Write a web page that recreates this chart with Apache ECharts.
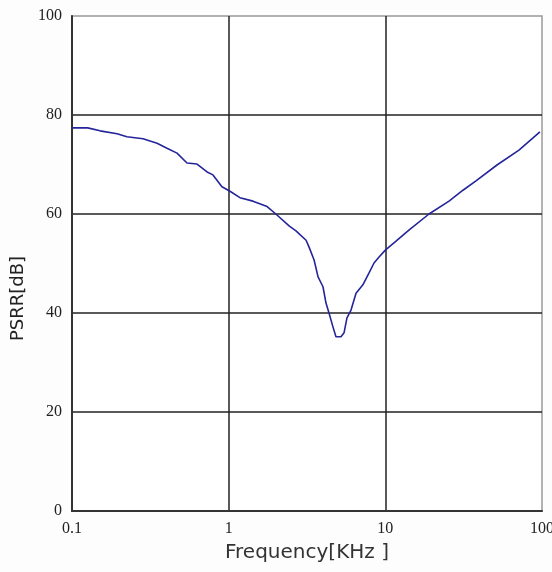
<!DOCTYPE html>
<html>
<head>
<meta charset="utf-8">
<script src="https://cdn.jsdelivr.net/npm/echarts@6/dist/echarts.min.js"></script>
<style>
  html, body { margin: 0; padding: 0; background: #fdfdfd; }
  #chart { width: 552px; height: 572px; }
</style>
</head>
<body>
<div id="chart"></div>
<script>
// frequency in kHz
const freq = [0.1, 0.126, 0.151, 0.194, 0.224, 0.284, 0.349, 0.404, 0.468, 0.542,
  0.628, 0.728, 0.794, 0.906, 1.02, 1.18, 1.43, 1.76, 2.0, 2.43,
  2.69, 3.12, 3.26, 3.51, 3.72, 4.0, 4.18, 4.37, 4.63, 4.84,
  5.21, 5.45, 5.69, 6.04, 6.5, 7.19, 7.87, 8.47, 9.12, 10,
  11.7, 14.2, 19.0, 25.5, 31.3, 37.9, 51.6, 71.3, 80.2, 97];
// PSRR in dB
const psrr = [77.4, 77.4, 76.8, 76.2, 75.6, 75.2, 74.3, 73.3, 72.3, 70.3,
  70.1, 68.5, 67.9, 65.5, 64.6, 63.3, 62.6, 61.5, 60.0, 57.6,
  56.6, 54.7, 53.3, 50.7, 47.3, 45.3, 42.0, 40.0, 37.2, 35.2,
  35.2, 36.0, 39.0, 40.6, 44.0, 45.7, 48.1, 50.1, 51.3, 52.7,
  54.5, 56.8, 60.0, 62.6, 64.8, 66.7, 69.9, 72.9, 74.3, 76.6];

const xTicks = ['0.1', '1', '10', '100'];
const yTicks = [0, 20, 40, 60, 80, 100];

const chart = echarts.init(document.getElementById('chart'));

const labelFont = {
  color: '#222',
  fontFamily: 'Liberation Serif',
  fontSize: 16
};

chart.setOption({
  animation: false,
  backgroundColor: '#fdfdfd',
  grid: {
    left: 72,
    right: 10,
    top: 16,
    bottom: 61,
    outerBoundsMode: 'none',
    containLabel: false,
    show: true,
    backgroundColor: '#ffffff',
    borderColor: '#999',
    borderWidth: 1.5
  },
  xAxis: {
    type: 'log',
    logBase: 10,
    min: 0.1,
    max: 100,
    name: 'Frequency[KHz ]',
    nameLocation: 'middle',
    nameGap: 32,
    nameTextStyle: {
      color: '#333',
      fontFamily: 'DejaVu Sans',
      fontSize: 20
    },
    axisLine: { lineStyle: { color: '#333', width: 2 } },
    axisTick: { show: false },
    axisLabel: Object.assign({
      margin: 10,
      formatter: v => xTicks.find(t => Math.abs(parseFloat(t) - v) < 1e-6) || ''
    }, labelFont),
    splitLine: {
      show: true,
      showMinLine: false,
      showMaxLine: false,
      lineStyle: { color: '#222', width: 1.5 }
    },
    minorSplitLine: { show: false }
  },
  yAxis: {
    type: 'value',
    min: 0,
    max: 100,
    interval: 20,
    name: 'PSRR[dB]',
    nameLocation: 'middle',
    nameGap: 44,
    nameTextStyle: {
      color: '#222',
      fontFamily: 'DejaVu Sans',
      fontSize: 18,
      padding: [0, 70, 0, 0]
    },
    axisLine: { show: true, lineStyle: { color: '#333', width: 2 } },
    axisTick: { show: false },
    axisLabel: Object.assign({
      margin: 10,
      formatter: v => yTicks.includes(v) ? String(v) : ''
    }, labelFont),
    splitLine: {
      show: true,
      showMinLine: false,
      showMaxLine: false,
      lineStyle: { color: '#222', width: 1.5 }
    }
  },
  series: [{
    type: 'line',
    data: freq.map((f, i) => [f, psrr[i]]),
    showSymbol: false,
    smooth: false,
    lineStyle: { color: '#25259a', width: 1.6 }
  }]
});
</script>
</body>
</html>
